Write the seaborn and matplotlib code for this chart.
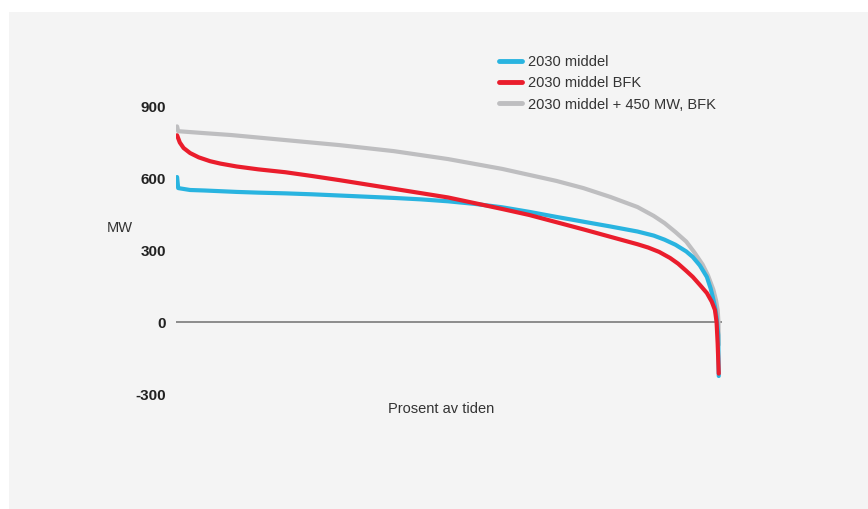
import matplotlib
matplotlib.use("Agg")
import matplotlib.pyplot as plt
from matplotlib.patches import Rectangle
from matplotlib.lines import Line2D
import seaborn as sns
import pandas as pd

# ---- data (percent of time vs MW) ----
blue_pct = [0, 0.2, 2.4, 5, 11, 15, 20, 25, 30, 35, 40, 45, 50, 55, 60, 65, 70, 75, 80, 85,
            88, 90, 92, 94, 95.2, 96.5, 97.8, 98.5, 98.9, 99.3, 99.6, 99.9, 100]
blue_mw = [604, 558, 550, 548, 542, 539, 536, 532, 527, 522, 517, 511, 503, 492, 478, 459, 438, 418, 398, 377,
           360, 343, 322, 294, 271, 236, 188, 140, 104, 65, 21, -54, -225]

red_pct = [0, 0.5, 1.2, 2.4, 4, 6.1, 8, 11, 15, 20, 25, 30, 35, 40, 45, 50, 55, 60, 65, 70, 75, 80, 85,
           87, 89, 91, 92.5, 94, 95.2, 96.5, 97.8, 98.7, 99.3, 99.6, 99.8, 100]
red_mw = [778, 748, 725, 704, 686, 670, 660, 648, 636, 624, 608, 591, 573, 555, 537, 519, 495, 471, 446, 416, 386, 355, 324,
          310, 292, 267, 243, 213, 188, 155, 121, 85, 50, 0, -90, -215]

gray_pct = [0, 0.2, 5, 10, 20, 30, 40, 50, 60, 70, 75, 80, 85, 88, 90, 92, 94, 95.5, 97, 98, 99, 99.5, 99.8, 99.95, 100]
gray_mw = [815, 795, 787, 779, 758, 737, 712, 679, 638, 588, 558, 521, 479, 442, 412, 375, 335, 290, 240, 195, 135, 90, 50, 0, -95]

labels = ["2030 middel", "2030 middel BFK", "2030 middel + 450 MW, BFK"]
colors = ["#29b4e0", "#ea1d2c", "#bebec0"]
yticks = [-300, 0, 300, 600, 900]
ylabel = "MW"
xlabel = "Prosent av tiden"

sns.set_style("white")
plt.rcParams["font.family"] = ["Liberation Sans", "DejaVu Sans"]

fig = plt.figure(figsize=(8.68, 5.09), dpi=100)
fig.patch.set_facecolor("white")
fig.patches.append(Rectangle((9 / 868, 0), 1 - 9 / 868, 1 - 12 / 509,
                             transform=fig.transFigure, facecolor="#f4f4f4",
                             edgecolor="none", zorder=-10))

ax = fig.add_axes([176 / 868, 1 - 394 / 509, 546 / 868, 288 / 509])
ax.set_facecolor("none")

df_gray = pd.DataFrame({"pct": gray_pct, "mw": gray_mw})
df_blue = pd.DataFrame({"pct": blue_pct, "mw": blue_mw})
df_red = pd.DataFrame({"pct": red_pct, "mw": red_mw})

ax.axhline(0, color="#7a7a7a", lw=1.2, zorder=1)
sns.lineplot(data=df_gray, x="pct", y="mw", ax=ax, color=colors[2], lw=3.0,
             sort=False, estimator=None, zorder=2)
sns.lineplot(data=df_blue, x="pct", y="mw", ax=ax, color=colors[0], lw=3.0,
             sort=False, estimator=None, zorder=3)
sns.lineplot(data=df_red, x="pct", y="mw", ax=ax, color=colors[1], lw=3.0,
             sort=False, estimator=None, zorder=4)

ax.set_xlim(-0.2, 100.6)
ax.set_ylim(-300, 900)
ax.set_yticks(yticks)
ax.set_yticklabels([str(t) for t in yticks], fontsize=11, fontweight="bold", color="#222222")
ax.set_xticks([])
ax.tick_params(axis="y", length=0, pad=7)
for s in ax.spines.values():
    s.set_visible(False)

ax.set_ylabel("")
ax.set_xlabel(xlabel, fontsize=10.5, color="#333333")
ax.xaxis.set_label_coords(0.485, -0.028)
fig.text(120 / 868, 1 - 228 / 509, ylabel, fontsize=10.5, color="#333333",
         ha="center", va="center")

handles = [Line2D([0], [0], color=c, lw=3.5, solid_capstyle="round") for c in colors]
leg = fig.legend(handles, labels, loc="upper left",
                 bbox_to_anchor=(499 / 868, 1 - 55 / 509),
                 frameon=False, fontsize=10.5, handlelength=1.55,
                 handletextpad=0.45, labelspacing=0.5, borderpad=0,
                 borderaxespad=0)
for t in leg.get_texts():
    t.set_color("#333333")

fig.savefig("out.png", dpi=100)
